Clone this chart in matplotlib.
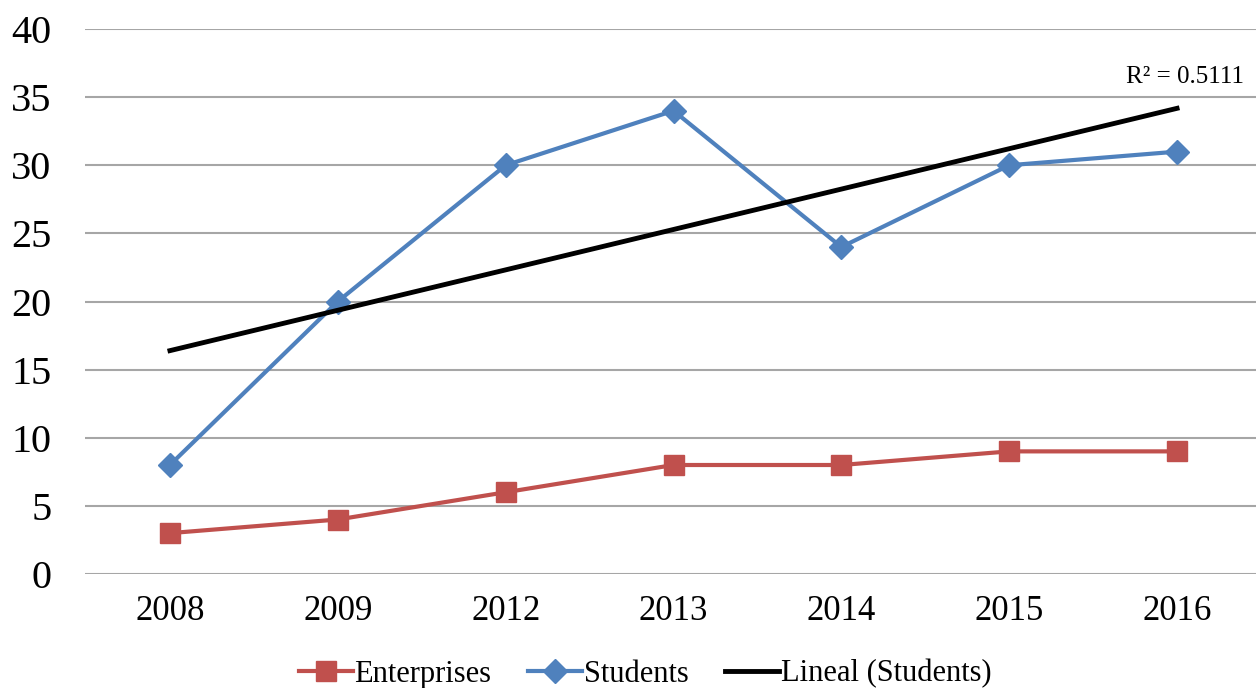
import numpy as np
import matplotlib
matplotlib.use("Agg")
import matplotlib.pyplot as plt

plt.rcParams['font.family'] = ['Liberation Serif', 'DejaVu Serif']

years = ["2008", "2009", "2012", "2013", "2014", "2015", "2016"]
enterprises = [3, 4, 6, 8, 8, 9, 9]
students = [8, 20, 30, 34, 24, 30, 31]
r2_label = "R² = 0.5111"

fig = plt.figure(figsize=(12.56, 6.88), dpi=100)
ax = fig.add_axes([85/1256, (688-574)/688, (1262-85)/1256, (574-29)/688])

x = np.arange(len(years))
red = "#C0504D"
blue = "#4F81BD"

ax.plot(x, enterprises, color=red, lw=3, marker='s', markersize=14,
        label="Enterprises", zorder=3)
ax.plot(x, students, color=blue, lw=3, marker='D', markersize=12,
        label="Students", zorder=3)
coef = np.polyfit(x + 1, students, 1)
trend = np.polyval(coef, x + 1)
ax.plot(x, trend, color='black', lw=3.5, label="Lineal (Students)", zorder=4)

ax.set_xlim(-0.506, 6.506)
ax.set_ylim(0, 40)
ax.set_yticks(range(0, 41, 5))
ax.set_xticks(x)
ax.set_xticklabels(years)
ax.grid(axis='y', color='#A6A6A6', lw=1.5)
ax.set_axisbelow(True)
for s in ax.spines.values():
    s.set_visible(False)
ax.tick_params(axis='y', length=0, labelsize=29, pad=24)
ax.tick_params(axis='x', length=0, labelsize=25, pad=15)

fig.text(1244/1256, 1 - 77/688, r2_label, ha='right', va='center', fontsize=18)

fig.legend(loc='center', bbox_to_anchor=(645/1256, 1 - 674/688), ncol=3, frameon=False,
           fontsize=22, handlelength=1.77, handletextpad=0.05, columnspacing=1.2,
           borderpad=0, borderaxespad=0)

fig.savefig("out.png", dpi=100)
